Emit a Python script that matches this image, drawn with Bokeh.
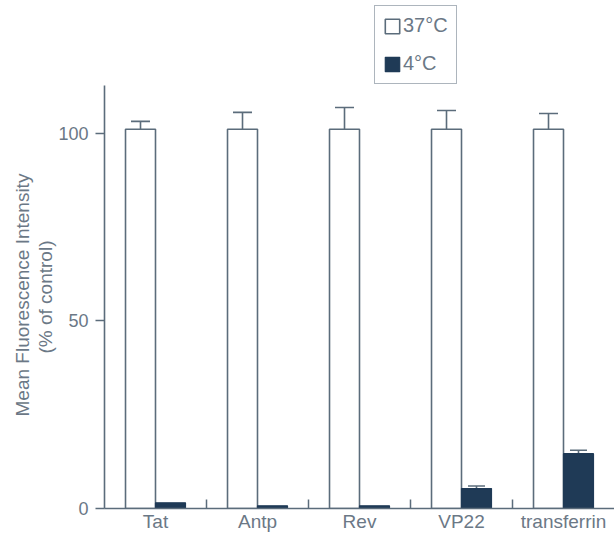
from bokeh.plotting import figure
from bokeh.models import (Range1d, FixedTicker, Whisker, TeeHead, ColumnDataSource,
                          Legend, LegendItem, Title)
from bokeh.embed import file_html
from bokeh.resources import INLINE

# Data: mean fluorescence (% of control) and upper error
categories = ["Tat", "Antp", "Rev", "VP22", "transferrin"]
warm_values = [101, 101, 101, 101, 101]          # 37 °C
warm_errors = [2.1, 4.5, 5.8, 5.0, 4.2]
cold_values = [1.5, 0.7, 0.7, 5.3, 14.6]          # 4 °C
cold_errors = [0.0, 0.0, 0.0, 0.7, 0.9]

FONT = "Liberation Sans"
LINE = "#5b6c7b"
DARK = "#1f3a56"
TEXT = "#6b7886"

n = len(categories)
centers = [i + 0.5 for i in range(n)]
bar_w = 0.294
offset = bar_w / 2

warm_src = ColumnDataSource(dict(
    x=[c - offset for c in centers],
    top=warm_values,
    lower=warm_values,
    upper=[v + e for v, e in zip(warm_values, warm_errors)],
))
cold_src = ColumnDataSource(dict(x=[c + offset for c in centers], top=cold_values))
cold_err_src = ColumnDataSource(dict(
    x=[c + offset for c, e in zip(centers, cold_errors) if e > 0],
    lower=[v for v, e in zip(cold_values, cold_errors) if e > 0],
    upper=[v + e for v, e in zip(cold_values, cold_errors) if e > 0],
))

# plotting area reaches the top edge so the legend can sit above the axis end
p = figure(width=614, height=534, output_backend="svg", toolbar_location=None,
           x_range=Range1d(0, n), y_range=Range1d(0, 135.3),
           min_border_left=104, min_border_right=0, min_border_top=0,
           min_border_bottom=24, background_fill_color="white",
           border_fill_color="white", outline_line_color=None)
p.grid.visible = False

warm = p.vbar(x="x", top="top", width=bar_w, bottom=0, source=warm_src,
              fill_color="white", line_color=LINE, line_width=1.6)
cold = p.vbar(x="x", top="top", width=bar_w, bottom=0, source=cold_src,
              fill_color=DARK, line_color=DARK, line_width=1.2)

p.add_layout(Whisker(source=warm_src, base="x", lower="lower", upper="upper",
                     dimension="height", line_color=LINE, line_width=1.6,
                     upper_head=TeeHead(size=19, line_color=LINE, line_width=1.6),
                     lower_head=None))
p.add_layout(Whisker(source=cold_err_src, base="x", lower="lower", upper="upper",
                     dimension="height", line_color=LINE, line_width=1.6,
                     upper_head=TeeHead(size=17, line_color=LINE, line_width=1.6),
                     lower_head=None))

# x axis: category names at group centres, small inward ticks between groups
xa = p.xaxis[0]
xa.ticker = FixedTicker(ticks=centers, minor_ticks=[1, 2, 3, 4])
xa.major_label_overrides = {c: name for c, name in zip(centers, categories)}
xa.major_tick_in = 0
xa.major_tick_out = 0
xa.minor_tick_in = 9
xa.minor_tick_out = 0
xa.minor_tick_line_color = LINE
xa.minor_tick_line_width = 1.5
xa.axis_line_color = LINE
xa.axis_line_width = 1.6
xa.major_label_standoff = 2
xa.major_label_text_font = FONT
xa.major_label_text_font_size = "19px"
xa.major_label_text_color = TEXT

ya = p.yaxis[0]
ya.ticker = FixedTicker(ticks=[0, 50, 100])
ya.bounds = (0, 112.7)
ya.minor_tick_line_color = None
ya.major_tick_in = 0
ya.major_tick_out = 9
ya.major_tick_line_color = LINE
ya.major_tick_line_width = 1.5
ya.axis_line_color = LINE
ya.axis_line_width = 1.6
ya.major_label_standoff = 7
ya.major_label_text_font = FONT
ya.major_label_text_font_size = "18px"
ya.major_label_text_color = TEXT

# two-line y title, placed along the drawn part of the axis
for line, shift in [("(% of control)", 155), ("Mean Fluorescence Intensity", 92)]:
    p.add_layout(Title(text=line, align="left", offset=shift, standoff=0,
                       text_font=FONT, text_font_size="19px",
                       text_font_style="normal", text_color=TEXT,
                       text_line_height=1.0), "left")

legend = Legend(items=[LegendItem(label="37°C", renderers=[warm]),
                       LegendItem(label="4°C", renderers=[cold])],
                location=(270, 424), margin=0, padding=8, spacing=15,
                glyph_width=18, glyph_height=18, label_height=20,
                label_standoff=2, label_text_font=FONT,
                label_text_font_size="20px", label_text_color=TEXT,
                border_line_color=LINE, border_line_width=1.5,
                background_fill_color="white")
p.add_layout(legend)

open("out.html", "w").write(file_html(p, INLINE))
